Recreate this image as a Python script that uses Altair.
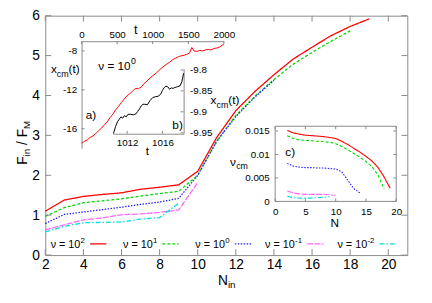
import altair as alt
import pandas as pd

# ---------------- data ----------------
series = ["1e2", "1e1", "1e0", "1e-1", "1e-2"]
sup_labels = ["2", "1", "0", "-1", "-2"]
colors = ["#ff0000", "#00d800", "#2020ff", "#ff66ff", "#00dede"]
dashes = [[1, 0], [3, 2], [1.5, 1.5], [6, 1.5], [5, 2, 1.5, 2]]

N_red = [2, 3, 4, 5, 6, 7, 8, 9, 10, 11, 12, 13, 14, 15, 16, 17, 18, 19]
F_red = [1.10, 1.38, 1.47, 1.52, 1.56, 1.65, 1.70, 1.76, 2.10, 2.95, 3.62, 4.10, 4.52, 4.91, 5.21, 5.50, 5.73, 5.92]
N_green = [2, 3, 4, 5, 6, 7, 8, 9, 10, 11, 12, 13, 14, 15, 16, 17, 18]
F_green = [0.97, 1.19, 1.31, 1.36, 1.41, 1.48, 1.54, 1.60, 2.00, 2.85, 3.50, 3.98, 4.40, 4.78, 5.08, 5.36, 5.62]
N_blue = [2, 3, 4, 5, 6, 7, 8, 9, 10, 11, 12, 13, 14]
F_blue = [0.79, 1.02, 1.08, 1.14, 1.20, 1.27, 1.33, 1.42, 2.00, 2.86, 3.47, 3.96, 4.38]
N_mag = [2, 3, 4, 5, 6, 7, 8, 9, 10]
F_mag = [0.63, 0.76, 0.88, 0.93, 1.01, 1.03, 1.07, 1.13, 1.82]
N_cyan = [2, 3, 4, 5, 6, 7, 8, 9]
F_cyan = [0.58, 0.72, 0.81, 0.82, 0.83, 0.90, 0.94, 1.30]

# inset a) x_cm(t), nu = 10^0
t_a = [0, 40, 80, 120, 160, 200, 240, 280, 320, 360, 400, 440, 480, 520, 560, 600,
       640, 680, 720, 760, 800, 840, 880, 920, 960, 1000, 1040, 1080, 1120, 1160,
       1200, 1240, 1280, 1320, 1360, 1400, 1440, 1480, 1520, 1550, 1580, 1620, 1660,
       1700, 1740, 1780, 1820, 1860, 1900, 1940, 1980, 2000]
x_a = [-17.5, -17.3, -17.15, -16.9, -16.75, -16.5, -16.2, -15.95, -15.6, -15.3,
       -14.85, -14.5, -14.05, -13.7, -13.3, -12.95, -12.6, -12.4, -12.1, -11.85,
       -11.9, -11.7, -11.35, -11.1, -10.8, -10.55, -10.35, -10.05, -9.8, -9.55,
       -9.35, -9.15, -8.9, -8.75, -8.6, -8.5, -8.45, -8.35, -8.2, -7.65, -8.0,
       -8.05, -7.95, -8.0, -7.9, -7.85, -7.9, -7.75, -7.7, -7.6, -7.4, -7.35]

# inset b) zoom
t_b = [1010.45, 1010.7, 1010.9, 1011.1, 1011.3, 1011.5, 1011.7, 1011.9, 1012.1,
       1012.4, 1012.7, 1013.0, 1013.2, 1013.4, 1013.6, 1013.8, 1014.0, 1014.3,
       1014.6, 1014.9, 1015.2, 1015.5, 1015.8, 1016.0, 1016.2, 1016.4, 1016.6,
       1016.8, 1017.0, 1017.2, 1017.4, 1017.7, 1018.0, 1018.2, 1018.4]
x_b = [-9.952, -9.935, -9.924, -9.918, -9.912, -9.915, -9.909, -9.912, -9.906,
       -9.906, -9.907, -9.905, -9.899, -9.893, -9.886, -9.882, -9.882, -9.883,
       -9.873, -9.866, -9.864, -9.863, -9.858, -9.849, -9.842, -9.839, -9.840,
       -9.846, -9.843, -9.844, -9.842, -9.840, -9.838, -9.828, -9.808]

# inset c) v_cm(N)
Nc_red = [2, 3, 4, 5, 6, 7, 8, 9, 10, 11, 12, 13, 14, 15, 16, 17, 18, 19]
vc_red = [0.0151, 0.0146, 0.0143, 0.0141, 0.0140, 0.0139, 0.0138, 0.0136, 0.0134,
          0.0128, 0.0121, 0.0113, 0.0105, 0.0096, 0.0086, 0.0072, 0.0052, 0.0028]
Nc_green = [2, 3, 4, 5, 6, 7, 8, 9, 10, 11, 12, 13, 14, 15, 16, 17, 18]
vc_green = [0.0140, 0.0134, 0.0131, 0.0130, 0.0129, 0.0128, 0.0127, 0.0126, 0.0123,
            0.0117, 0.0110, 0.0102, 0.0094, 0.0085, 0.0074, 0.0056, 0.0026]
Nc_blue = [2, 3, 4, 5, 6, 7, 8, 9, 10, 11, 12, 13, 14]
vc_blue = [0.0081, 0.0075, 0.0073, 0.0072, 0.0072, 0.0071, 0.0071, 0.0070, 0.0069,
           0.0063, 0.0045, 0.0027, 0.0018]
Nc_mag = [2, 3, 4, 5, 6, 7, 8, 9, 10]
vc_mag = [0.0022, 0.0018, 0.0016, 0.0015, 0.0015, 0.0015, 0.0015, 0.0014, 0.0013]
Nc_cyan = [2, 3, 4, 5, 6, 7, 8, 9]
vc_cyan = [0.0011, 0.0008, 0.0007, 0.0007, 0.0007, 0.0008, 0.0009, 0.0010]

main_xticks = [2, 4, 6, 8, 10, 12, 14, 16, 18, 20]
main_yticks = [0, 1, 2, 3, 4, 5, 6]
a_xticks = [0, 500, 1000, 1500, 2000]
a_yticks = [-8, -12, -16]
b_xticks = [1012, 1016]
b_yticks = [-9.8, -9.85, -9.9, -9.95]
c_xticks = [0, 5, 10, 15, 20]
c_yticks = [0, 0.005, 0.01, 0.015]

# ---------------- layout ----------------
FONT = "Liberation Sans"
GRAY = "#8a8a8a"
OX, OY = 46, 13          # plot origin on the page
W, H = 369, 244          # plot area


def rx(x):
    return x - OX


def ry(y):
    return y - OY


EM = {' ': 0.278, '=': 0.584, '-': 0.333, 'ν': 0.52, 'x': 0.5, 'c': 0.5, 'm': 0.833,
      '(': 0.333, ')': 0.333, 't': 0.278, 'N': 0.722, 'i': 0.222, 'n': 0.556,
      'F': 0.611, 'M': 0.833, '/': 0.278}


def text_w(s, size):
    return sum(EM.get(ch, 0.556) for ch in s) * size


one = pd.DataFrame({"a": [0]})


def txt(s, x, y, size, align="left", angle=0):
    return alt.Chart(one).mark_text(
        text=s, font=FONT, fontSize=size, align=align, baseline="alphabetic",
        angle=angle, color="black"
    ).encode(x=alt.value(rx(x)), y=alt.value(ry(y)))


def pieces(parts, x, y, angle=0):
    out = []
    pos = 0.0
    for s, size, shift in parts:
        core = s.strip()
        lead = len(s) - len(s.lstrip())
        trail = len(s) - len(s.rstrip())
        pos += lead * EM[' '] * size
        if angle == 0:
            out.append(txt(core, x + pos, y + shift, size))
        else:
            out.append(txt(core, x + shift, y - pos, size, angle=angle))
        pos += text_w(core, size) + trail * EM[' '] * size
    return out


def long_df(groups):
    rows = []
    for s, xs, ys in groups:
        for a, b in zip(xs, ys):
            rows.append({"s": s, "x": a, "y": b})
    return pd.DataFrame(rows)


color_enc = alt.Color("s:N", scale=alt.Scale(domain=series, range=colors), legend=None)
dash_enc = alt.StrokeDash("s:N", scale=alt.Scale(domain=series, range=dashes), legend=None)

layers = []

# ---------- main panel ----------
X_MAIN = alt.Scale(domain=[2, 21], nice=False, zero=False)
Y_MAIN = alt.Scale(domain=[0, 6], nice=False)

main_df = long_df([
    (series[0], N_red, F_red), (series[1], N_green, F_green), (series[2], N_blue, F_blue),
    (series[3], N_mag, F_mag), (series[4], N_cyan, F_cyan)])

layers.append(alt.Chart(main_df).mark_line(strokeWidth=1.3).encode(
    x=alt.X("x:Q", scale=X_MAIN, axis=alt.Axis(
        orient="bottom", values=main_xticks, format="d", title=None, labelFontSize=14,
        labelPadding=3, labelFlush=False, labelOverlap=False, domain=False, ticks=False)),
    y=alt.Y("y:Q", scale=Y_MAIN, axis=alt.Axis(
        orient="left", values=main_yticks, format="d", title=None, labelFontSize=14,
        labelPadding=6, labelFlush=False, labelOverlap=False, domain=False, ticks=False)),
    color=color_enc, strokeDash=dash_enc))

mxt = pd.DataFrame({"v": main_xticks})
myt = pd.DataFrame({"v": main_yticks})
for y0, y1 in [(H, H - 6), (0, 6)]:
    layers.append(alt.Chart(mxt).mark_rule(color=GRAY, strokeWidth=1).encode(
        x=alt.X("v:Q", scale=X_MAIN, axis=None), y=alt.value(y0), y2=alt.value(y1)))
for x0, x1 in [(0, 6), (W, W - 6)]:
    layers.append(alt.Chart(myt).mark_rule(color=GRAY, strokeWidth=1).encode(
        y=alt.Y("v:Q", scale=Y_MAIN, axis=None), x=alt.value(x0), x2=alt.value(x1)))

# ---------- inset a ----------
AX = [83, 228]
AY = [148, 39]
XA = alt.Scale(domain=[0, 2000], range=[rx(AX[0]), rx(AX[1])], nice=False, zero=False)
YA = alt.Scale(domain=[-18, -7], range=[ry(AY[0]), ry(AY[1])], nice=False, zero=False)
layers.append(alt.Chart(pd.DataFrame({"t": t_a, "x": x_a})).mark_line(
    color="#ff0000", strokeWidth=1).encode(
    x=alt.X("t:Q", scale=XA, axis=alt.Axis(
        orient="top", offset=-ry(AY[1]), values=a_xticks, title=None, labelFontSize=10,
        labelPadding=2, labelFlush=False, labelOverlap=False, domain=True,
        domainColor=GRAY, ticks=False, labelExpr="'' + datum.value")),
    y=alt.Y("x:Q", scale=YA, axis=alt.Axis(
        orient="left", offset=-rx(AX[0]), values=a_yticks, title=None, labelFontSize=10,
        labelPadding=5, labelFlush=False, labelOverlap=False, domain=True,
        domainColor=GRAY, ticks=False, labelExpr="'' + datum.value"))))
layers.append(alt.Chart(pd.DataFrame({"v": a_xticks})).mark_rule(color=GRAY).encode(
    x=alt.X("v:Q", scale=XA, axis=None), y=alt.value(ry(AY[1])), y2=alt.value(ry(AY[1]) + 3)))
layers.append(alt.Chart(pd.DataFrame({"v": a_yticks})).mark_rule(color=GRAY).encode(
    y=alt.Y("v:Q", scale=YA, axis=None), x=alt.value(rx(AX[0])), x2=alt.value(rx(AX[0]) + 3)))

# ---------- inset b ----------
BX = [115, 187]
BY = [133.3, 67]
XB = alt.Scale(domain=[1010.4, 1018.4], range=[rx(BX[0]), rx(BX[1])], nice=False, zero=False)
YB = alt.Scale(domain=[-9.9523, -9.797], range=[ry(BY[0]), ry(BY[1])], nice=False, zero=False)
layers.append(alt.Chart(pd.DataFrame({"t": t_b, "x": x_b})).mark_line(
    color="black", strokeWidth=1).encode(
    x=alt.X("t:Q", scale=XB, axis=alt.Axis(
        orient="bottom", offset=ry(BY[0]) - H, values=b_xticks, title=None, labelFontSize=10,
        labelPadding=4, labelFlush=False, labelOverlap=False, domain=True,
        domainColor=GRAY, ticks=False, format="d")),
    y=alt.Y("x:Q", scale=YB, axis=alt.Axis(
        orient="right", offset=rx(BX[1]) - W, values=b_yticks, title=None, labelFontSize=10,
        labelPadding=6, labelFlush=False, labelOverlap=False, domain=True,
        domainColor=GRAY, ticks=False, labelExpr="'' + datum.value"))))
layers.append(alt.Chart(pd.DataFrame({"v": b_xticks})).mark_rule(color=GRAY).encode(
    x=alt.X("v:Q", scale=XB, axis=None), y=alt.value(ry(BY[0])), y2=alt.value(ry(BY[0]) - 3)))
layers.append(alt.Chart(pd.DataFrame({"v": b_yticks})).mark_rule(color=GRAY).encode(
    y=alt.Y("v:Q", scale=YB, axis=None), x=alt.value(rx(BX[1])), x2=alt.value(rx(BX[1]) - 3)))

# ---------- inset c ----------
CX = [280.3, 403.7]
CY = [202.3, 125.7]
XC = alt.Scale(domain=[0, 20], range=[rx(CX[0]), rx(CX[1])], nice=False, zero=False)
YC = alt.Scale(domain=[0, 0.016], range=[ry(CY[0]), ry(CY[1])], nice=False, zero=False)
c_df = long_df([
    (series[0], Nc_red, vc_red), (series[1], Nc_green, vc_green), (series[2], Nc_blue, vc_blue),
    (series[3], Nc_mag, vc_mag), (series[4], Nc_cyan, vc_cyan)])
layers.append(alt.Chart(one).mark_rect(fillOpacity=0, stroke=GRAY, strokeWidth=1).encode(
    x=alt.value(rx(CX[0])), x2=alt.value(rx(CX[1])), y=alt.value(ry(CY[1])), y2=alt.value(ry(CY[0]))))
layers.append(alt.Chart(c_df).mark_line(strokeWidth=1.1).encode(
    x=alt.X("x:Q", scale=XC, axis=alt.Axis(
        orient="bottom", offset=ry(CY[0]) - H, values=c_xticks, title=None, labelFontSize=10,
        labelPadding=5, labelFlush=False, labelOverlap=False, domain=False, ticks=False,
        format="d")),
    y=alt.Y("y:Q", scale=YC, axis=alt.Axis(
        orient="left", offset=-rx(CX[0]), values=c_yticks, title=None, labelFontSize=10,
        labelPadding=6, labelFlush=False, labelOverlap=False, domain=False, ticks=False,
        labelExpr="'' + datum.value")),
    color=color_enc, strokeDash=dash_enc))
for y0, y1 in [(ry(CY[0]), ry(CY[0]) - 3), (ry(CY[1]), ry(CY[1]) + 3)]:
    layers.append(alt.Chart(pd.DataFrame({"v": c_xticks})).mark_rule(color=GRAY).encode(
        x=alt.X("v:Q", scale=XC, axis=None), y=alt.value(y0), y2=alt.value(y1)))
for x0, x1 in [(rx(CX[0]), rx(CX[0]) + 3), (rx(CX[1]), rx(CX[1]) - 3)]:
    layers.append(alt.Chart(pd.DataFrame({"v": c_yticks})).mark_rule(color=GRAY).encode(
        y=alt.Y("v:Q", scale=YC, axis=None), x=alt.value(x0), x2=alt.value(x1)))

# ---------- legend ----------
for i, (s, sup) in enumerate(zip(series, sup_labels)):
    sx = 91.7 + 73.75 * i
    layers.append(alt.Chart(one).mark_rule(
        color=colors[i], strokeDash=dashes[i], strokeWidth=1.3).encode(
        x=alt.value(rx(sx)), x2=alt.value(rx(sx + 16.5)), y=alt.value(ry(245.5))))
    width = text_w("ν = 10", 11) + text_w(sup, 8)
    layers += pieces([("ν = 10", 11, 0), (sup, 8, -5)], sx - 5.3 - width, 249.5)

# ---------- titles & annotations ----------
layers += pieces([("F", 14, 0), ("in", 10, 3), (" / ", 14, 0), ("F", 14, 0), ("M", 10, 3)],
                 27, 165, angle=270)
layers += pieces([("N", 14, 0), ("in", 10, 3)], 222, 287.5)
layers += pieces([("x", 12, 0), ("cm", 9, 4), ("(t)", 12, 0)], 51.7, 71)
layers += pieces([("x", 12, 0), ("cm", 9, 4), ("(t)", 12, 0)], 214.5, 103.5)
layers += pieces([("ν", 12, 0), ("cm", 9, 3)], 234.3, 166.7)
layers += pieces([("ν = 10", 12, 0), ("0", 9, -6.5)], 100, 68.3)
layers.append(txt("a)", 87.3, 118.3, 12))
layers.append(txt("b)", 175.5, 128.5, 12))
layers.append(txt("c)", 290.7, 156.5, 12))
layers.append(txt("t", 138.3, 31.7, 13, align="center"))
layers.append(txt("t", 150, 155, 12, align="center"))
layers.append(txt("N", 341, 228.5, 12, align="center"))

chart = alt.layer(*layers).resolve_scale(
    x="independent", y="independent"
).properties(
    width=W, height=H,
    padding={"left": 38, "top": 5, "right": 17, "bottom": 46},
    autosize=alt.AutoSizeParams(type="none"),
    background="white",
).configure_view(
    stroke=GRAY, strokeWidth=1
).configure_axis(
    grid=False, labelFont=FONT, labelColor="black"
)

chart.save("out.html", embed_options={"renderer": "svg", "actions": False})
